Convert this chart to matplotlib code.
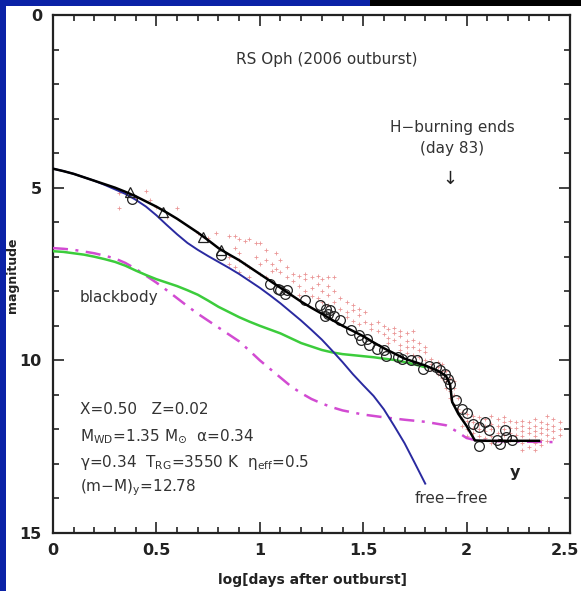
import matplotlib
matplotlib.use("Agg")
import matplotlib.pyplot as plt
from matplotlib.patches import Rectangle
from matplotlib.ticker import MultipleLocator
from matplotlib.transforms import ScaledTranslation

plt.rcParams['font.family'] = ['DejaVu Sans']
plt.rcParams['mathtext.default'] = 'regular'

# ---- model light curves: x = log(days after outburst), y = magnitude ----
total_x = [0, 0.05, 0.1, 0.15, 0.2, 0.25, 0.3, 0.35, 0.4, 0.45, 0.5, 0.55, 0.6, 0.65, 0.7,
           0.75, 0.8, 0.85, 0.9, 0.95, 1.0, 1.05, 1.1, 1.15, 1.2, 1.25, 1.3, 1.35, 1.4,
           1.45, 1.5, 1.55, 1.6, 1.65, 1.7, 1.75, 1.8, 1.86, 1.9, 1.92, 1.93, 1.96, 2.0,
           2.04, 2.1, 2.2, 2.35]
total_y = [4.45, 4.52, 4.6, 4.7, 4.8, 4.9, 5.0, 5.12, 5.25, 5.4, 5.55, 5.72, 5.9, 6.1, 6.3,
           6.52, 6.75, 6.93, 7.1, 7.3, 7.5, 7.7, 7.9, 8.1, 8.3, 8.48, 8.65, 8.83, 9.0,
           9.15, 9.3, 9.48, 9.65, 9.8, 9.95, 10.05, 10.15, 10.3, 10.45, 10.7, 11.2, 11.55, 11.9,
           12.32, 12.33, 12.33, 12.33]

freefree_x = [0, 0.05, 0.1, 0.15, 0.2, 0.25, 0.3, 0.35, 0.4, 0.45, 0.5, 0.55, 0.6, 0.65, 0.7,
              0.75, 0.8, 0.85, 0.9, 0.95, 1.0, 1.05, 1.1, 1.15, 1.2, 1.25, 1.3, 1.35, 1.4,
              1.45, 1.5, 1.55, 1.6, 1.65, 1.7, 1.75, 1.8]
freefree_y = [4.45, 4.52, 4.6, 4.7, 4.8, 4.92, 5.05, 5.18, 5.35, 5.55, 5.8, 6.08, 6.35, 6.6, 6.8,
              6.98, 7.15, 7.32, 7.5, 7.7, 7.9, 8.12, 8.35, 8.6, 8.85, 9.12, 9.4, 9.72, 10.05,
              10.4, 10.72, 11.03, 11.42, 11.9, 12.4, 12.98, 13.57]

blackbody_x = [0, 0.05, 0.1, 0.15, 0.2, 0.25, 0.3, 0.35, 0.4, 0.45, 0.5, 0.55, 0.6, 0.65, 0.7,
               0.75, 0.8, 0.85, 0.9, 0.95, 1.0, 1.05, 1.1, 1.15, 1.2, 1.25, 1.3, 1.35, 1.4,
               1.45, 1.5, 1.55, 1.6, 1.65, 1.7, 1.75, 1.8]
blackbody_y = [6.84, 6.86, 6.9, 6.94, 7.0, 7.07, 7.15, 7.26, 7.4, 7.53, 7.65, 7.75, 7.85, 7.97, 8.1,
               8.27, 8.45, 8.6, 8.75, 8.88, 9.0, 9.11, 9.22, 9.36, 9.5, 9.6, 9.7, 9.77, 9.82,
               9.85, 9.88, 9.91, 9.95, 9.99, 10.05, 10.12, 10.2]

photo_x = [0, 0.05, 0.1, 0.15, 0.2, 0.25, 0.3, 0.35, 0.4, 0.45, 0.5, 0.55, 0.6, 0.65, 0.7,
           0.75, 0.8, 0.85, 0.9, 0.95, 1.0, 1.05, 1.1, 1.15, 1.2, 1.25, 1.3, 1.35, 1.4,
           1.5, 1.6, 1.7, 1.8, 1.9, 1.95, 2.0, 2.05, 2.2, 2.45]
photo_y = [6.75, 6.77, 6.8, 6.85, 6.9, 6.97, 7.05, 7.18, 7.35, 7.55, 7.75, 7.97, 8.2, 8.43, 8.65,
           8.85, 9.05, 9.25, 9.45, 9.72, 10.0, 10.25, 10.5, 10.75, 10.95, 11.12, 11.25, 11.36, 11.45,
           11.57, 11.65, 11.72, 11.78, 11.88, 12.05, 12.25, 12.32, 12.35, 12.37]

# ---- y-band observations (open circles) ----
ycirc_x = [0.38, 0.81, 1.05, 1.09, 1.10, 1.12, 1.13, 1.22, 1.29, 1.315, 1.32, 1.33, 1.34, 1.36,
           1.39, 1.44, 1.48, 1.49, 1.52, 1.53, 1.565, 1.60, 1.61, 1.67, 1.69, 1.73, 1.76, 1.79,
           1.82, 1.85, 1.87, 1.895, 1.91, 1.92, 1.95, 1.98, 2.00, 2.03, 2.06, 2.06, 2.09, 2.11,
           2.145, 2.16, 2.185, 2.19, 2.22]
ycirc_y = [5.33, 6.96, 7.78, 7.94, 7.97, 8.07, 7.95, 8.24, 8.41, 8.72, 8.50, 8.65, 8.55, 8.72,
           8.84, 9.13, 9.28, 9.42, 9.37, 9.57, 9.66, 9.71, 9.88, 9.90, 9.95, 10.0, 10.0, 10.24,
           10.17, 10.19, 10.29, 10.39, 10.53, 10.68, 11.16, 11.40, 11.53, 11.84, 11.93, 12.49, 11.79, 12.03,
           12.32, 12.41, 12.03, 12.22, 12.30]

# ---- early y-band observations (open triangles) ----
ytri_x = [0.37, 0.53, 0.725, 0.81]
ytri_y = [5.13, 5.71, 6.43, 6.80]

# ---- visual / V-band estimates (small red crosses) ----
vis_x = [0.32, 0.32, 0.40, 0.45, 0.47, 0.50, 0.55, 0.60, 0.70, 0.75, 0.79,
         0.85, 0.85, 0.85, 0.88, 0.88, 0.88, 0.90, 0.90, 0.90, 0.90, 0.93, 0.93,
         0.95, 0.95, 0.95, 0.98, 0.98, 1.00, 1.00, 1.00, 1.03, 1.03, 1.03,
         1.06, 1.06, 1.08, 1.08, 1.10, 1.10, 1.13, 1.13, 1.16, 1.16,
         1.19, 1.19, 1.19, 1.22, 1.22, 1.22, 1.25, 1.25, 1.25, 1.28, 1.28, 1.28,
         1.30, 1.30, 1.30, 1.33, 1.33, 1.33, 1.33, 1.36, 1.36, 1.36,
         1.39, 1.39, 1.42, 1.42, 1.42, 1.45, 1.45, 1.45, 1.48, 1.48, 1.48,
         1.51, 1.51, 1.54, 1.54, 1.57, 1.57, 1.60, 1.60, 1.62, 1.62, 1.62,
         1.65, 1.65, 1.65, 1.68, 1.68, 1.68, 1.68, 1.71, 1.71, 1.71, 1.71,
         1.74, 1.74, 1.74, 1.74, 1.77, 1.77, 1.77, 1.80, 1.80, 1.80,
         1.83, 1.83, 1.83, 1.86, 1.86, 1.86, 1.88, 1.88, 1.88, 1.90, 1.90, 1.90,
         1.92, 1.92, 1.92, 1.94, 1.94, 1.94, 1.94, 1.96, 1.96, 1.98, 1.98, 1.98,
         2.00, 2.00, 2.00, 2.00, 2.03, 2.03, 2.03, 2.03, 2.06, 2.06, 2.06, 2.06,
         2.09, 2.09, 2.09, 2.09, 2.12, 2.12, 2.12, 2.12, 2.12, 2.15, 2.15, 2.15, 2.15,
         2.18, 2.18, 2.18, 2.18, 2.18, 2.21, 2.21, 2.21, 2.21, 2.24, 2.24, 2.24, 2.24,
         2.27, 2.27, 2.27, 2.27, 2.27, 2.27, 2.30, 2.30, 2.30, 2.30, 2.30,
         2.33, 2.33, 2.33, 2.33, 2.33, 2.33, 2.36, 2.36, 2.36, 2.36, 2.36,
         2.39, 2.39, 2.39, 2.39, 2.39, 2.42, 2.42, 2.42, 2.42, 2.45, 2.45, 2.45]
vis_y = [5.15, 5.6, 5.3, 5.1, 5.35, 5.55, 5.85, 5.6, 6.3, 6.45, 6.3,
         6.4, 7.0, 7.2, 6.4, 6.75, 7.3, 6.5, 6.9, 7.1, 7.45, 6.55, 7.2,
         6.5, 7.3, 7.6, 6.6, 7.0, 6.6, 7.2, 7.5, 6.8, 7.1, 7.6,
         7.2, 7.4, 6.9, 7.35, 7.45, 7.1, 7.3, 7.6, 7.5, 7.7,
         7.55, 7.85, 8.1, 7.5, 7.65, 8.0, 7.6, 7.9, 8.15, 7.55, 7.8, 8.2,
         7.65, 8.0, 8.3, 7.6, 7.85, 8.1, 8.4, 7.6, 8.0, 8.3,
         8.2, 8.5, 8.3, 8.6, 8.75, 8.4, 8.55, 8.85, 8.5, 8.7, 8.95,
         8.6, 8.9, 8.95, 9.1, 8.9, 9.15, 9.0, 9.25, 9.1, 9.35, 9.5,
         9.05, 9.2, 9.4, 9.15, 9.3, 9.55, 9.7, 9.2, 9.45, 9.6, 9.8,
         9.15, 9.4, 9.6, 9.85, 9.5, 9.7, 9.9, 9.6, 9.75, 10.0,
         9.95, 10.1, 10.25, 10.05, 10.2, 10.4, 10.1, 10.3, 10.5, 10.3, 10.6, 10.8,
         10.5, 10.9, 11.1, 10.6, 10.8, 11.0, 11.3, 11.1, 11.4, 11.5, 11.7, 11.9,
         11.55, 11.75, 12.0, 12.2, 11.6, 11.8, 11.95, 12.1, 11.65, 11.85, 12.0, 12.2,
         11.7, 11.9, 12.05, 12.25, 11.6, 11.85, 12.0, 12.2, 12.4, 11.7, 11.9, 12.1, 12.3,
         11.65, 11.8, 12.0, 12.15, 12.35, 11.75, 11.95, 12.1, 12.3, 11.8, 11.95, 12.15, 12.35,
         11.75, 11.9, 12.05, 12.2, 12.4, 12.6, 11.8, 11.95, 12.1, 12.3, 12.5,
         11.7, 11.9, 12.05, 12.2, 12.4, 12.6, 11.8, 11.95, 12.1, 12.3, 12.45,
         11.6, 11.85, 12.0, 12.15, 12.35, 11.7, 11.9, 12.05, 12.25, 11.8, 12.0, 12.15]

x_ticks = [0, 0.5, 1, 1.5, 2, 2.5]
x_tick_labels = ["0", "0.5", "1", "1.5", "2", "2.5"]
y_ticks = [0, 5, 10, 15]
y_tick_labels = ["0", "5", "10", "15"]

W, H = 581, 591
fig = plt.figure(figsize=(W / 100, H / 100), dpi=100)
fig.patch.set_facecolor('white')

# slide frame
fig.add_artist(Rectangle((0, 0), 6 / W, 1, transform=fig.transFigure,
                         facecolor='#0b22a6', edgecolor='none', zorder=0))
fig.add_artist(Rectangle((0, 1 - 6 / H), 370 / W, 6 / H, transform=fig.transFigure,
                         facecolor='#0b22a6', edgecolor='none', zorder=0))
fig.add_artist(Rectangle((370 / W, 1 - 6 / H), 1 - 370 / W, 6 / H, transform=fig.transFigure,
                         facecolor='black', edgecolor='none', zorder=0))

ax = fig.add_axes([53 / W, (H - 533) / H, 517 / W, 518 / H])
ax.set_xlim(0, 2.5)
ax.set_ylim(15, 0)

ax.plot(vis_x, vis_y, linestyle='none', marker='+', ms=2.4, mew=0.6,
        color='#dd5050', alpha=0.6, zorder=2)
ax.plot(photo_x, photo_y, color='#d24bd2', lw=1.8,
        linestyle=(0, (6, 3, 1.2, 3)), zorder=3)
ax.plot(blackbody_x, blackbody_y, color='#3ccc3c', lw=1.8, zorder=3)
ax.plot(freefree_x, freefree_y, color='#2a2aa0', lw=1.4, zorder=3)
ax.plot(ycirc_x, ycirc_y, linestyle='none', marker='o', ms=7, mfc='none',
        mec='#222222', mew=0.9, zorder=4)
ax.plot(ytri_x, ytri_y, linestyle='none', marker='^', ms=6.5, mfc='none',
        mec='#222222', mew=0.9, zorder=4)
ax.plot(total_x, total_y, color='black', lw=1.8, zorder=5)

ax.set_xticks(x_ticks)
ax.set_xticklabels(x_tick_labels)
ax.set_yticks(y_ticks)
ax.set_yticklabels(y_tick_labels)
ax.xaxis.set_minor_locator(MultipleLocator(0.1))
ax.yaxis.set_minor_locator(MultipleLocator(1))
ax.tick_params(which='both', direction='in', top=True, right=True,
               color='#222222', width=1.2)
ax.tick_params(which='major', length=8)
ax.tick_params(which='minor', length=4)
ax.tick_params(axis='x', which='major', pad=7)
ax.tick_params(axis='y', which='major', pad=8)
for lab in ax.get_xticklabels() + ax.get_yticklabels():
    lab.set_fontsize(11.5)
    lab.set_fontweight('bold')
    lab.set_color('#222222')
# keep the last x tick label inside the figure
last = ax.get_xticklabels()[-1]
last.set_transform(last.get_transform() + ScaledTranslation(-5 / 100, 0, fig.dpi_scale_trans))
for sp in ax.spines.values():
    sp.set_linewidth(1.6)
    sp.set_color('#222222')

fig.text(313 / W, 1 - 580 / H, "log[days after outburst]", ha='center', va='center',
         fontsize=10, fontweight='bold', color='#222222')
fig.text(13 / W, 1 - 275 / H, "magnitude", ha='center', va='center', rotation=90,
         fontsize=9, fontweight='bold', color='#222222')

txt = dict(color='#333333', fontsize=11)
ax.text(1.325, 1.3, "RS Oph (2006 outburst)", ha='center', va='center', **txt)
ax.text(1.93, 3.25, "H\u2212burning ends", ha='center', va='center', **txt)
ax.text(1.93, 3.86, "(day 83)", ha='center', va='center', **txt)
ax.text(1.92, 4.75, "\u2193", ha='center', va='center', color='#222222', fontsize=13)
ax.text(0.13, 8.17, "blackbody", ha='left', va='center', **txt)
ax.text(1.75, 14.0, "free\u2212free", ha='left', va='center', **txt)
ax.text(2.235, 13.25, "y", ha='center', va='center', color='#222222',
        fontsize=11.5, fontweight='bold')

ax.text(0.13, 11.42, "X=0.50   Z=0.02", ha='left', va='center', **txt)
ax.text(0.13, 12.2, r"M$_{\rm WD}$=1.35 M$_{\odot}$  $\alpha$=0.34", ha='left', va='center', **txt)
ax.text(0.13, 12.96, r"$\gamma$=0.34  T$_{\rm RG}$=3550 K  $\eta_{\rm eff}$=0.5",
        ha='left', va='center', **txt)
ax.text(0.13, 13.68, r"(m$-$M)$_{\rm y}$=12.78", ha='left', va='center', **txt)

fig.savefig("out.png", dpi=100, facecolor=fig.get_facecolor())
